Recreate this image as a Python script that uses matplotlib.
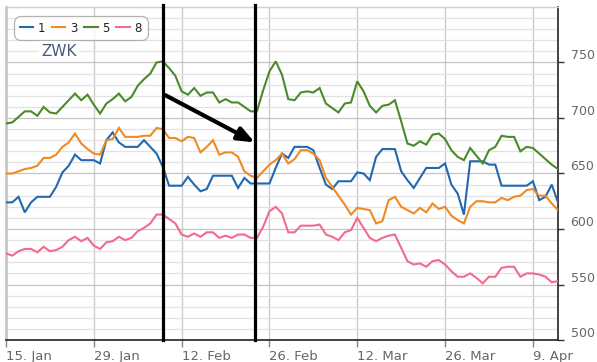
import matplotlib
matplotlib.use("Agg")
import matplotlib.pyplot as plt
import matplotlib.dates as mdates
from matplotlib.lines import Line2D
from matplotlib.ticker import MultipleLocator
import numpy as np
import pandas as pd

# ---------------- data ----------------
start_date = "2013-01-15"
series_names = ["1", "3", "5", "8"]
series_colors = ["#2268b0", "#f08a22", "#4b8a2c", "#f06b8c"]

s1 = [624, 624, 629, 615, 624, 629, 629, 629, 638, 651, 657, 667, 662, 662, 662, 659, 680, 687, 678,
      674, 674, 674, 680, 674, 668, 656, 639, 639, 639, 647, 640, 634, 636, 648, 648, 648,
      648, 637, 646, 641, 641, 641, 641, 655, 668, 664, 674, 674, 674, 671, 655, 640, 636, 643,
      643, 643, 651, 650, 644, 665, 672, 672, 672, 652, 644, 637, 646, 655, 655, 655, 659, 640,
      632, 613, 661, 661, 661, 658, 658, 639, 639, 639, 639, 639, 643, 626, 629, 640, 624]
s3 = [650, 650, 652, 654, 655, 657, 664, 664, 667, 674, 678, 686, 677, 672, 668, 667, 680, 681, 691,
      683, 683, 683, 684, 684, 691, 690, 682, 682, 679, 683, 682, 669, 674, 680, 667, 669,
      669, 665, 652, 648, 646, 652, 658, 662, 668, 659, 663, 671, 671, 668, 662, 646, 638, 630,
      622, 613, 619, 618, 617, 605, 607, 626, 629, 620, 617, 614, 619, 615, 623, 618, 620, 612,
      608, 605, 620, 625, 625, 624, 624, 628, 626, 629, 630, 635, 636, 630, 630, 623, 617]
s5 = [695, 696, 701, 706, 706, 702, 710, 705, 704, 710, 716, 722, 716, 721, 712, 704, 713, 717, 722,
      715, 719, 729, 735, 740, 750, 751, 745, 738, 724, 721, 727, 720, 723, 723, 714, 717,
      714, 714, 710, 706, 706, 725, 742, 751, 739, 717, 716, 723, 724, 723, 727, 713, 709, 705,
      713, 714, 733, 724, 711, 705, 711, 712, 716, 697, 677, 675, 679, 676, 685, 686, 681, 671,
      665, 662, 673, 666, 659, 671, 674, 684, 683, 683, 670, 674, 673, 668, 663, 658, 654]
s8 = [578, 576, 580, 582, 582, 579, 584, 580, 581, 584, 590, 593, 589, 592, 585, 582, 588, 589, 593,
      590, 592, 598, 601, 605, 613, 613, 609, 605, 595, 593, 596, 593, 597, 597, 592, 594,
      592, 595, 595, 592, 592, 602, 616, 620, 614, 597, 597, 603, 603, 603, 604, 595, 593, 590,
      597, 599, 610, 601, 592, 589, 592, 594, 595, 583, 571, 568, 569, 566, 571, 572, 568, 562,
      557, 557, 560, 556, 551, 557, 557, 565, 566, 566, 557, 560, 560, 559, 557, 552, 553]

x_tick_dates = ["2013-01-15", "2013-01-29", "2013-02-12", "2013-02-26",
                "2013-03-12", "2013-03-26", "2013-04-09"]
x_tick_labels = ["15. Jan", "29. Jan", "12. Feb", "26. Feb", "12. Mar", "26. Mar", "9. Apr"]
y_ticks = [500, 550, 600, 650, 700, 750]
marker_dates = ["2013-02-09 02:00", "2013-02-23 16:00"]
arrow_from = ("2013-02-09 10:00", 720.5)
arrow_to = ("2013-02-23 16:00", 678)
title_text = "ZWK"

# ---------------- plot ----------------
dates = pd.date_range(start_date, periods=len(s1), freq="D")
all_series = [s1, s3, s5, s8]

W, H = 597, 362
fig = plt.figure(figsize=(W / 100, H / 100), dpi=100)
ax = fig.add_axes([6 / W, 1 - 340 / H, (558 - 6) / W, (340 - 7) / H])

for vals, name, col in zip(all_series, series_names, series_colors):
    ax.plot(dates, vals, color=col, lw=1.5, label=name, solid_joinstyle="miter", zorder=3)

ax.set_xlim(dates[0], dates[-1])
ax.set_ylim(500, 800)

ax.yaxis.tick_right()
ax.set_yticks(y_ticks)
ax.yaxis.set_minor_locator(MultipleLocator(10))
ax.grid(axis="y", which="major", color="#c4c4c4", lw=0.9, zorder=0)
ax.grid(axis="y", which="minor", color="#e2e2e2", lw=0.9, zorder=0)

ax.set_xticks(pd.to_datetime(x_tick_dates))
ax.set_xticklabels(x_tick_labels, ha="left")
ax.grid(axis="x", which="major", color="#cccccc", lw=1.0, zorder=0)

ax.tick_params(axis="y", which="major", direction="out", length=4, width=1, color="#333333",
               labelsize=9, labelcolor="#666666", pad=5)
ax.tick_params(axis="y", which="minor", length=0)
ax.tick_params(axis="x", direction="out", length=5, width=1, color="#888888",
               labelsize=8.5, labelcolor="#666666", pad=2)
for lab in ax.get_yticklabels():
    lab.set_verticalalignment("bottom")
for lab in ax.get_xticklabels():
    lab.set_family(["Liberation Sans Narrow", "DejaVu Sans"])
    lab.set_fontsize(9.5)

ax.spines["right"].set_color("#222222")
ax.spines["right"].set_linewidth(1.2)
ax.spines["bottom"].set_color("#222222")
ax.spines["bottom"].set_linewidth(1.2)
ax.spines["left"].set_color("#c8c8c8")
ax.spines["left"].set_linewidth(2)
ax.spines["top"].set_color("#cfcfcf")
ax.spines["top"].set_linewidth(1)

# annotation lines
for md in marker_dates:
    ax.axvline(pd.Timestamp(md), ymin=0, ymax=1.006, color="black", lw=2.3, zorder=5, clip_on=False)

ax.annotate("", xy=(mdates.date2num(pd.Timestamp(arrow_to[0])), arrow_to[1]),
            xytext=(mdates.date2num(pd.Timestamp(arrow_from[0])), arrow_from[1]),
            arrowprops=dict(arrowstyle="-|>,head_length=1.0,head_width=0.4", color="black",
                            lw=3, shrinkA=0, shrinkB=0),
            zorder=6)

# legend
handles = [Line2D([], [], color=c, lw=1.5) for c in series_colors]
leg = ax.legend(handles, series_names, ncol=4, loc="upper left",
                bbox_to_anchor=(16 / W, 1 - 18 / H), bbox_transform=fig.transFigure,
                fontsize=8.5, handlelength=1.15, handletextpad=0.4, columnspacing=0.55,
                borderpad=0.3, frameon=True, fancybox=True, borderaxespad=0)
leg.get_frame().set_edgecolor("#a0a0a0")
leg.get_frame().set_linewidth(0.9)
leg.get_frame().set_boxstyle("round,pad=0.2,rounding_size=0.6")
for t in leg.get_texts():
    t.set_color("#222222")

fig.text(59 / W, 1 - 51 / H, title_text, ha="center", va="center", fontsize=11,
         color="#4a5b7a", bbox=dict(facecolor="white", edgecolor="none", pad=1.5))

fig.savefig("out.png", dpi=100)
